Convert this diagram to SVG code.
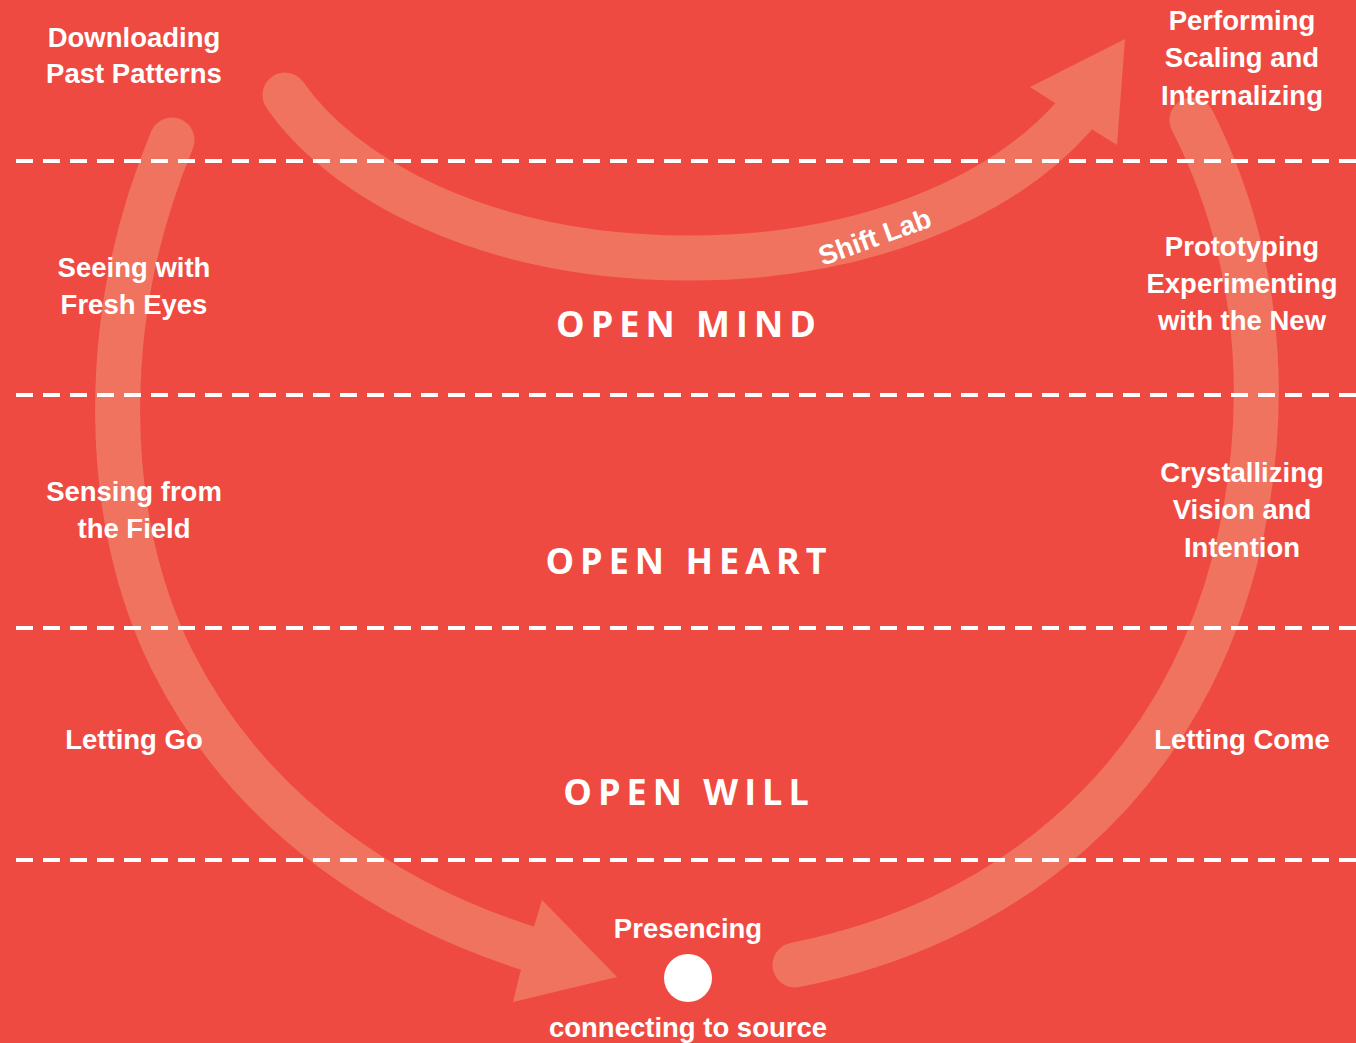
<svg xmlns="http://www.w3.org/2000/svg" width="1356" height="1043" viewBox="0 0 1356 1043">
<style>
.band{fill:none;stroke:#F07360;stroke-width:45;stroke-linecap:round}
.head{fill:#F07360}
.dash{stroke:#fff;stroke-width:4;stroke-dasharray:17 10}
.lbl{font-family:"Liberation Sans",Arial,sans-serif;font-weight:700;font-size:27.5px;fill:#fff;text-anchor:middle}
.big{font-family:"Open Sans","Liberation Sans",sans-serif;font-weight:700;font-size:36px;fill:#fff;text-anchor:middle;letter-spacing:6px}
</style>
<rect width="1356" height="1043" fill="#EF4A41"/>
<g id="connectors">
<path class="band" d="M285,95 C340,175 480,258 690,258 C860,258 1000,200 1074,116"/>
<polygon class="head" points="1030,87 1125,39 1117,145 1093,130 1055,103"/>
<path class="band" d="M172,140 C97,320 102,520 172,660 C252,820 400,910 540,952"/>
<polygon class="head" points="542,900 617,977 513,1002 520,973 533,930"/>
<path class="band" d="M795,965 C1000,925 1175,790 1235,560 C1280,380 1248,230 1192,120"/>
</g>
<g id="dividers">
<line class="dash" x1="16" y1="161" x2="1356" y2="161"/>
<line class="dash" x1="16" y1="395" x2="1356" y2="395"/>
<line class="dash" x1="16" y1="628" x2="1356" y2="628"/>
<line class="dash" x1="16" y1="860" x2="1356" y2="860"/>
</g>
<g id="shift-lab"><text class="lbl" font-size="25" transform="translate(878,246) rotate(-20)">Shift Lab</text></g>
<g id="downloading"><text class="lbl" x="134" y="47">Downloading</text><text class="lbl" x="134" y="83">Past Patterns</text></g>
<g id="performing"><text class="lbl" x="1242" y="30">Performing</text><text class="lbl" x="1242" y="67">Scaling and</text><text class="lbl" x="1242" y="105">Internalizing</text></g>
<g id="seeing"><text class="lbl" x="134" y="277">Seeing with</text><text class="lbl" x="134" y="314">Fresh Eyes</text></g>
<g id="prototyping"><text class="lbl" x="1242" y="256">Prototyping</text><text class="lbl" x="1242" y="293">Experimenting</text><text class="lbl" x="1242" y="330">with the New</text></g>
<g id="sensing"><text class="lbl" x="134" y="501">Sensing from</text><text class="lbl" x="134" y="538">the Field</text></g>
<g id="crystallizing"><text class="lbl" x="1242" y="482">Crystallizing</text><text class="lbl" x="1242" y="519">Vision and</text><text class="lbl" x="1242" y="557">Intention</text></g>
<g id="letting-go"><text class="lbl" x="134" y="749">Letting Go</text></g>
<g id="letting-come"><text class="lbl" x="1242" y="749">Letting Come</text></g>
<g id="open-mind"><text class="big" x="689" y="337">OPEN MIND</text></g>
<g id="open-heart"><text class="big" x="689" y="574">OPEN HEART</text></g>
<g id="open-will"><text class="big" x="689" y="805">OPEN WILL</text></g>
<g id="presencing"><text class="lbl" x="688" y="938">Presencing</text><circle cx="688" cy="978" r="24" fill="#fff"/><text class="lbl" x="688" y="1037">connecting to source</text></g>
</svg>
